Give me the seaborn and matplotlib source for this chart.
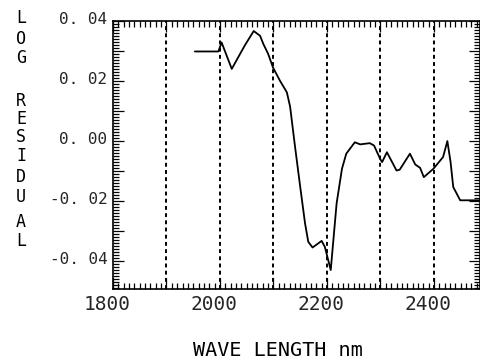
import matplotlib
matplotlib.use("Agg")
import matplotlib.pyplot as plt
import matplotlib.transforms as mtrans
from matplotlib.ticker import MultipleLocator, FixedLocator, FixedFormatter
import seaborn as sns
import pandas as pd

wavelength = [1953, 1997, 2003, 2022, 2046, 2063, 2075, 2081, 2090, 2099,
              2112, 2125, 2131, 2140, 2150, 2159, 2165, 2173, 2190, 2196,
              2207, 2218, 2228, 2236, 2252, 2262, 2280, 2288, 2299, 2303,
              2312, 2330, 2336, 2355, 2365, 2374, 2381, 2399, 2417, 2425,
              2431, 2436, 2449, 2486]
residual = [0.0297, 0.0297, 0.0327, 0.0239, 0.0316, 0.0365, 0.0349, 0.0322, 0.0289, 0.0244,
            0.0200, 0.0161, 0.0114, -0.0016, -0.0154, -0.0275, -0.0336, -0.0355, -0.0333, -0.0353,
            -0.0430, -0.0208, -0.0093, -0.0043, -0.0005, -0.0012, -0.0008, -0.0016, -0.0059, -0.0071,
            -0.0038, -0.0099, -0.0096, -0.0043, -0.0079, -0.0090, -0.0121, -0.0093, -0.0054, -0.0001,
            -0.0071, -0.0154, -0.0198, -0.0198]

guide_nm = [1900, 2000, 2100, 2200, 2300, 2400]
x_tick_vals = [1800, 2000, 2200, 2400]
x_tick_labels = ["1800", "2000", "2200", "2400"]
y_tick_vals = [-0.04, -0.02, 0.00, 0.02, 0.04]
y_tick_labels = ["-0. 04", "-0. 02", "0. 00", "0. 02", "0. 04"]
ylabel_letters = ["L", "O", "G", "R", "E", "S", "I", "D", "U", "A", "L"]
ylabel_ypix = [18, 39, 58, 101, 119, 137, 156, 177, 197, 222, 241]

sns.set_style("ticks")
plt.rcParams['font.family'] = ['DejaVu Sans Mono', 'DejaVu Sans']

W, H = 481, 360
fig = plt.figure(figsize=(W / 100, H / 100), dpi=100)
ax = fig.add_axes([113 / W, 1 - 289 / H, (480 - 113) / W, (289 - 20.5) / H])

df = pd.DataFrame({"nm": wavelength, "res": residual})
sns.lineplot(data=df, x="nm", y="res", ax=ax, color="black", linewidth=1.3, sort=False)

for g in guide_nm:
    ax.axvline(g, color="black", linestyle=(0, (2.0, 1.7)), linewidth=1.4, zorder=1)

ax.set_xlim(1800, 2486)
ax.set_ylim(-0.0493, 0.04)

# x ticks
major_x = list(range(1800, 2500, 100))
xlabels = [x_tick_labels[x_tick_vals.index(v)] if v in x_tick_vals else "" for v in major_x]
ax.xaxis.set_major_locator(FixedLocator(major_x))
ax.xaxis.set_major_formatter(FixedFormatter(xlabels))
ax.xaxis.set_minor_locator(MultipleLocator(10))

# y ticks
yt = [-0.04, -0.03, -0.02, -0.01, 0.0, 0.01, 0.02, 0.03, 0.04]
ylabs = []
for v in yt:
    match = [l for t, l in zip(y_tick_vals, y_tick_labels) if abs(t - v) < 1e-9]
    ylabs.append(match[0] if match else "")
ax.yaxis.set_major_locator(FixedLocator(yt))
ax.yaxis.set_major_formatter(FixedFormatter(ylabs))
ax.yaxis.set_minor_locator(MultipleLocator(0.001))

ax.tick_params(which="both", direction="in", top=True, right=True, bottom=True, left=True,
               color="black", width=0.9)
ax.tick_params(which="major", length=8)
ax.tick_params(which="minor", length=4.3)
ax.tick_params(axis="x", which="major", labelsize=14, pad=4)
ax.tick_params(axis="y", which="major", labelsize=11.5, pad=4)

for lab in ax.get_xticklabels():
    lab.set_transform(lab.get_transform() + mtrans.ScaledTranslation(-6 / 100, 0, fig.dpi_scale_trans))
for lab in ax.get_yticklabels():
    lab.set_transform(lab.get_transform() + mtrans.ScaledTranslation(0, 3 / 100, fig.dpi_scale_trans))

for s in ax.spines.values():
    s.set_linewidth(1.2)
    s.set_color("black")

ax.set_xlabel("")
ax.set_ylabel("")

for ch, yp in zip(ylabel_letters, ylabel_ypix):
    fig.text(21 / W, 1 - yp / H, ch, ha="center", va="center", fontsize=12, color="black")

fig.text(278 / W, 1 - 350 / H, "WAVE LENGTH nm", ha="center", va="center", fontsize=14.5,
         color="black")

fig.savefig("out.png", dpi=100)
